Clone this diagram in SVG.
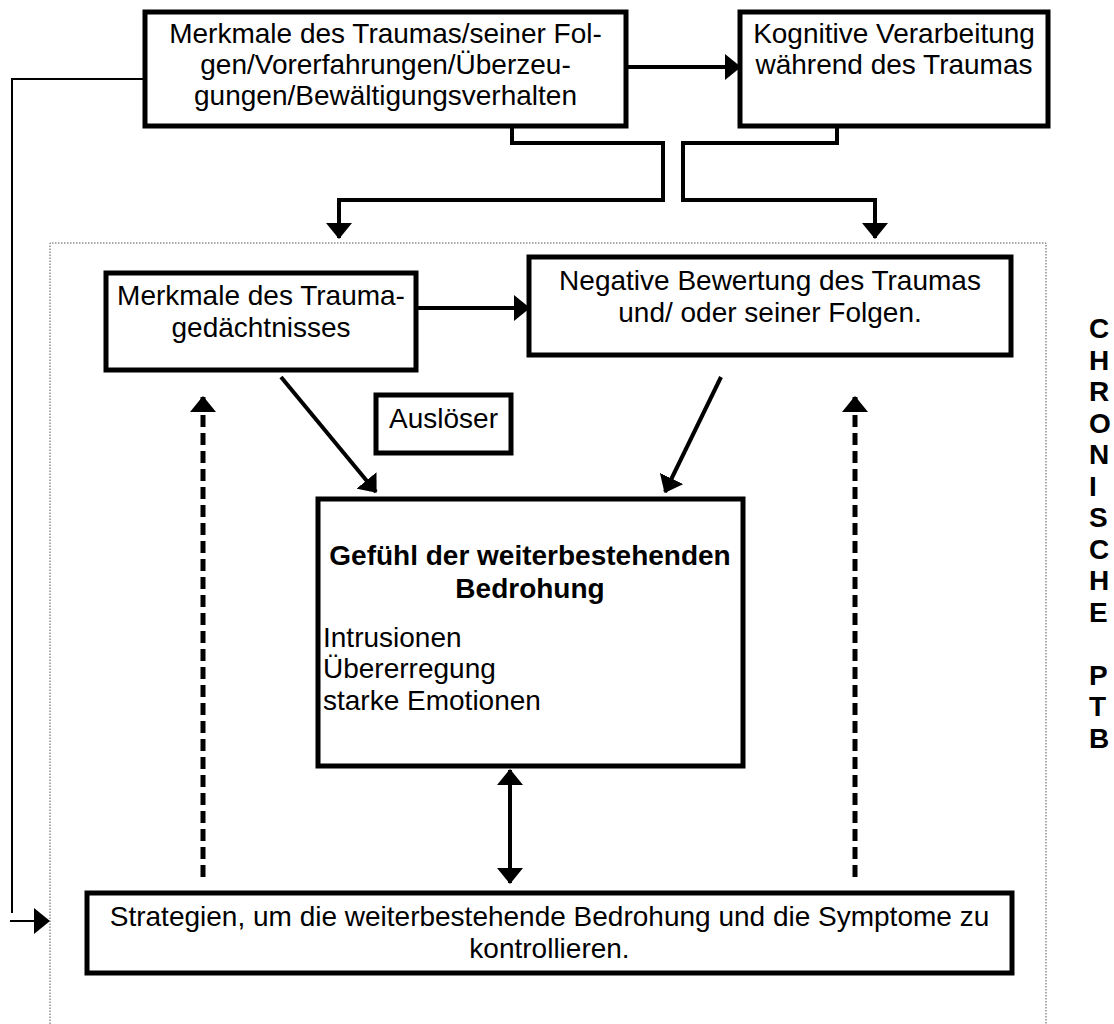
<svg xmlns="http://www.w3.org/2000/svg" width="1114" height="1024" viewBox="0 0 1114 1024">
<defs>
<style>
.box{fill:#fff;stroke:#000;stroke-width:5}
.t{font-family:"Liberation Sans",Arial,sans-serif;font-size:28px;fill:#000}
.c{text-anchor:middle}
.b{font-weight:bold}
.ln{fill:none;stroke:#000;stroke-width:4}
.dash{fill:none;stroke:#000;stroke-width:5;stroke-dasharray:12 6}
.thin{fill:none;stroke:#000;stroke-width:2}
.frame{fill:none;stroke:#555;stroke-width:1;stroke-dasharray:1.5 1.5}
</style>
<marker id="ah" markerUnits="userSpaceOnUse" markerWidth="16" markerHeight="26" refX="15" refY="13" orient="auto-start-reverse" viewBox="0 0 16 26">
<path d="M0,0 L16,13 L0,26 z" fill="#000"/>
</marker>
</defs>
<rect width="1114" height="1024" fill="#fff"/>

<g id="frame">
<path class="frame" d="M50,1030 V243 H1046 V1030"/>
</g>

<g id="connectors">
<path class="thin" d="M145,79 H12 V913"/>
<line class="thin" x1="10" y1="921" x2="49" y2="921" marker-end="url(#ah)"/>
<line class="ln" x1="626" y1="67" x2="740" y2="67" marker-end="url(#ah)"/>
<path class="ln" d="M512,127 V143 H663 V200 H339 V238" marker-end="url(#ah)"/>
<path class="ln" d="M837,127 V143 H683 V200 H875 V238" marker-end="url(#ah)"/>
<line class="ln" x1="416" y1="308" x2="529" y2="308" marker-end="url(#ah)"/>
<line class="ln" x1="281" y1="377" x2="376" y2="492" marker-end="url(#ah)"/>
<line class="ln" x1="721" y1="377" x2="665" y2="492" marker-end="url(#ah)"/>
<line class="dash" x1="203" y1="877" x2="203" y2="397" marker-end="url(#ah)"/>
<line class="dash" x1="855" y1="877" x2="855" y2="397" marker-end="url(#ah)"/>
<line class="ln" x1="510" y1="770" x2="510" y2="883" marker-start="url(#ah)" marker-end="url(#ah)"/>
</g>

<g id="node-merkmale-trauma">
<rect class="box" x="145" y="12" width="481" height="114"/>
<text class="t c" x="385.5" y="43">Merkmale des Traumas/seiner Fol-</text>
<text class="t c" x="385.5" y="74">gen/Vorerfahrungen/Überzeu-</text>
<text class="t c" x="385.5" y="105">gungen/Bewältigungsverhalten</text>
</g>

<g id="node-kognitive">
<rect class="box" x="740" y="12" width="308" height="114"/>
<text class="t c" x="894" y="43">Kognitive Verarbeitung</text>
<text class="t c" x="894" y="74">während des Traumas</text>
</g>

<g id="node-gedaechtnis">
<rect class="box" x="106" y="273" width="310" height="97"/>
<text class="t c" x="261" y="305">Merkmale des Trauma-</text>
<text class="t c" x="261" y="337">gedächtnisses</text>
</g>

<g id="node-negative">
<rect class="box" x="529" y="257" width="482" height="98"/>
<text class="t c" x="770" y="290">Negative Bewertung des Traumas</text>
<text class="t c" x="770" y="322">und/ oder seiner Folgen.</text>
</g>

<g id="node-ausloeser">
<rect class="box" x="376" y="395" width="135" height="58"/>
<text class="t c" x="443.5" y="428">Auslöser</text>
</g>

<g id="node-bedrohung">
<rect class="box" x="318" y="499" width="425" height="267"/>
<text class="t c b" x="530" y="565">Gefühl der weiterbestehenden</text>
<text class="t c b" x="530" y="598">Bedrohung</text>
<text class="t" x="323" y="647">Intrusionen</text>
<text class="t" x="323" y="678">Übererregung</text>
<text class="t" x="323" y="710">starke Emotionen</text>
</g>

<g id="node-strategien">
<rect class="box" x="87" y="893" width="925" height="80"/>
<text class="t c" x="549.5" y="926">Strategien, um die weiterbestehende Bedrohung und die Symptome zu</text>
<text class="t c" x="549.5" y="958">kontrollieren.</text>
</g>

<g id="label-ptb" class="t b">
<text x="1089" y="338">C</text>
<text x="1089" y="369.5">H</text>
<text x="1089" y="401">R</text>
<text x="1089" y="432.5">O</text>
<text x="1089" y="464">N</text>
<text x="1089" y="495.5">I</text>
<text x="1089" y="527">S</text>
<text x="1089" y="558.5">C</text>
<text x="1089" y="590">H</text>
<text x="1089" y="621.5">E</text>
<text x="1089" y="684.5">P</text>
<text x="1089" y="716">T</text>
<text x="1089" y="747.5">B</text>
</g>
</svg>
